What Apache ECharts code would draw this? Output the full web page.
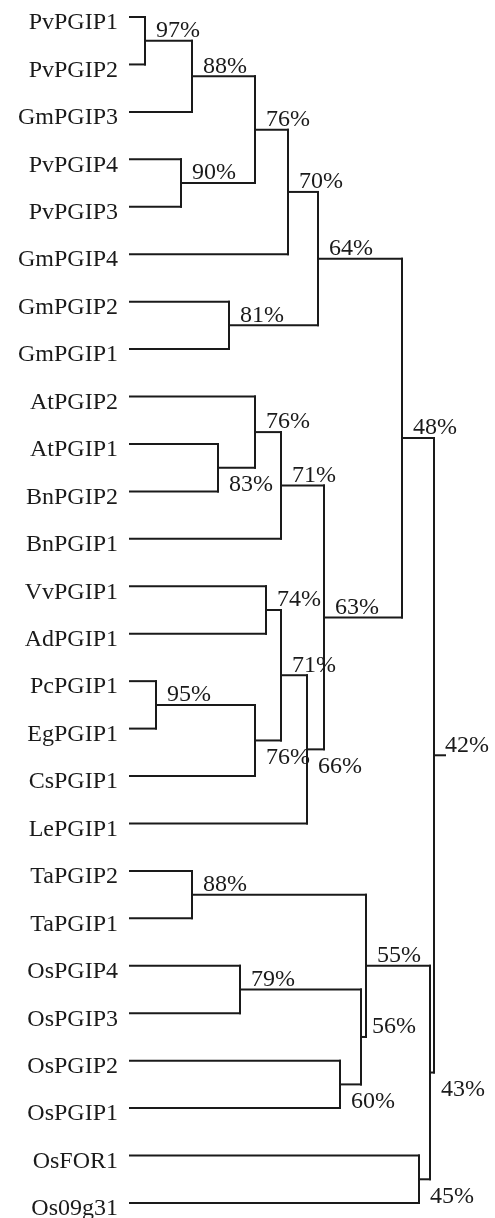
<!DOCTYPE html>
<html><head><meta charset="utf-8">
<script src="https://cdn.jsdelivr.net/npm/echarts@6/dist/echarts.min.js"></script>
<style>html,body{margin:0;padding:0;background:#fff}#c{width:495px;height:1218px}</style>
</head><body><div id="c"></div>
<script>
// Leaves, top to bottom
const leaves = ['PvPGIP1','PvPGIP2','GmPGIP3','PvPGIP4','PvPGIP3','GmPGIP4','GmPGIP2','GmPGIP1',
  'AtPGIP2','AtPGIP1','BnPGIP2','BnPGIP1','VvPGIP1','AdPGIP1','PcPGIP1','EgPGIP1','CsPGIP1','LePGIP1',
  'TaPGIP2','TaPGIP1','OsPGIP4','OsPGIP3','OsPGIP2','OsPGIP1','OsFOR1','Os09g31'];
// Internal nodes (children listed before parents)
const nodeIds = ['n97','n88a','n90','n76a','n70','n81','n64','n83','n76b','n71a','n74','n95','n76c',
  'n71b','n66','n63','n48','n88b','n79','n60','n56','n55','n45','n43','n42'];
const nodeChildren = [
  ['PvPGIP1','PvPGIP2'],['n97','GmPGIP3'],['PvPGIP4','PvPGIP3'],['n88a','n90'],['n76a','GmPGIP4'],
  ['GmPGIP2','GmPGIP1'],['n70','n81'],['AtPGIP1','BnPGIP2'],['AtPGIP2','n83'],['n76b','BnPGIP1'],
  ['VvPGIP1','AdPGIP1'],['PcPGIP1','EgPGIP1'],['n95','CsPGIP1'],['n74','n76c'],['n71b','LePGIP1'],
  ['n71a','n66'],['n64','n63'],['TaPGIP2','TaPGIP1'],['OsPGIP4','OsPGIP3'],['OsPGIP2','OsPGIP1'],
  ['n79','n60'],['n88b','n56'],['OsFOR1','Os09g31'],['n55','n45'],['n48','n43']];
// Branch depth of each node (distance units)
const nodeHeights = [15,62,51,125,158,99,188,88,125,151,136,26,125,151,177,194,272,62,110,210,231,236,289,300,304];
const nodeSupport = ['97%','88%','90%','76%','70%','81%','64%','83%','76%','71%','74%','95%','76%',
  '71%','66%','63%','48%','88%','79%','60%','56%','55%','45%','43%','42%'];
const rootStub = 315;

// label side (style, not data)
const labelSide = ['a','a','a','a','a','a','a','b','a','a','a','a','b','a','b','a','a','a','a','b','a','a','b','b','a'];

const pos = {};
leaves.forEach((n,i)=>{pos[n]={x:0,y:i};});
nodeIds.forEach((id,i)=>{
  const [a,b]=nodeChildren[i];
  pos[id]={x:nodeHeights[i],y:(pos[a].y+pos[b].y)/2};
});
const segs=[];
nodeIds.forEach((id,i)=>{
  const p=pos[id];
  const [a,b]=nodeChildren[i];
  segs.push([p.x,pos[a].y,p.x,pos[b].y]);
  [a,b].forEach(c=>segs.push([pos[c].x,pos[c].y,p.x,pos[c].y]));
});
const root=pos[nodeIds[nodeIds.length-1]];
segs.push([root.x,root.y,rootStub,root.y]);

const FONT="24px 'Liberation Serif','Times New Roman',serif";
const textData=[];
leaves.forEach((n,i)=>textData.push([0,i,n,'leaf']));
nodeIds.forEach((id,i)=>textData.push([pos[id].x,pos[id].y,nodeSupport[i],labelSide[i]]));

const chart=echarts.init(document.getElementById('c'),null,{renderer:'canvas'});
chart.setOption({
  animation:false,
  grid:{left:130,right:50,top:17,bottom:15},
  xAxis:{type:'value',min:0,max:315,show:false},
  yAxis:{type:'value',min:0,max:25,inverse:true,show:false},
  series:[
    {type:'custom',coordinateSystem:'cartesian2d',data:segs,encode:{x:[0,2],y:[1,3]},
     renderItem:(params,api)=>{
       const p1=api.coord([api.value(0),api.value(1)]);
       const p2=api.coord([api.value(2),api.value(3)]);
       return {type:'line',shape:{x1:p1[0],y1:p1[1],x2:p2[0],y2:p2[1]},
         style:{stroke:'#1a1a1a',lineWidth:2,lineCap:'square'}};
     }},
    {type:'custom',coordinateSystem:'cartesian2d',data:textData,encode:{x:0,y:1},
     renderItem:(params,api)=>{
       const d=textData[params.dataIndex];
       const p=api.coord([d[0],d[1]]);
       let x,y,align='left';
       if(d[3]==='leaf'){x=p[0]-12;y=p[1]+6;align='right';}
       else if(d[3]==='a'){x=p[0]+11;y=p[1]-10;}
       else {x=p[0]+11;y=p[1]+17;}
       return {type:'text',x:x,y:y,style:{text:d[2],font:FONT,fill:'#1a1a1a',align:align,verticalAlign:'middle'}};
     }}
  ]
});
</script></body></html>
